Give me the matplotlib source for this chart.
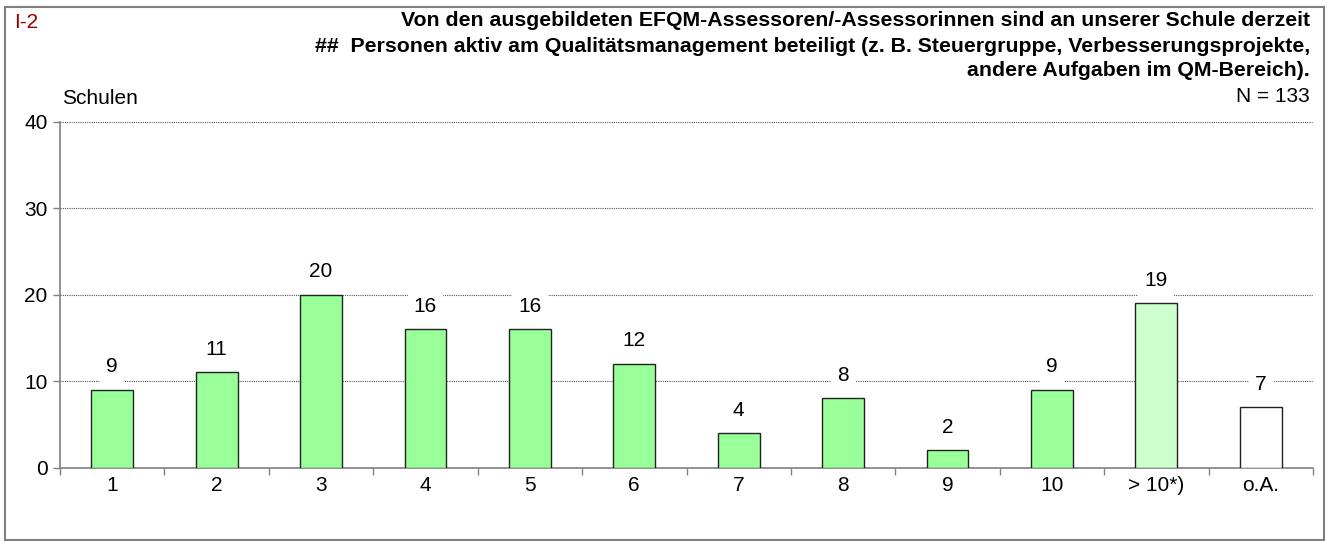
import numpy as np
import matplotlib
matplotlib.use('Agg')
import matplotlib.pyplot as plt
from matplotlib.patches import Rectangle

plt.rcParams['font.family'] = ['Liberation Sans', 'DejaVu Sans']

# Daten
categories = ['1', '2', '3', '4', '5', '6', '7', '8', '9', '10', '> 10*)', 'o.A.']
values = [9, 11, 20, 16, 16, 12, 4, 8, 2, 9, 19, 7]
bar_colors = ['#99ff99'] * 10 + ['#ccffcc', '#ffffff']

title_lines = [
    'Von den ausgebildeten EFQM-Assessoren/-Assessorinnen sind an unserer Schule derzeit',
    '##  Personen aktiv am Qualitätsmanagement beteiligt (z. B. Steuergruppe, Verbesserungsprojekte,',
    'andere Aufgaben im QM-Bereich).',
]

W, H = 1327, 541
fig = plt.figure(figsize=(W / 100, H / 100), dpi=100)

# Rahmen
fig.add_artist(Rectangle((5 / W, 1 - 540 / H), 1319 / W, 533 / H, transform=fig.transFigure,
                         fill=False, edgecolor='#808080', lw=1.5))

ax = fig.add_axes([60 / W, 73.3 / H, 1253 / W, 346.2 / H])

x = np.arange(len(categories))
ax.bar(x, values, width=0.4, color=bar_colors, edgecolor='#222222', linewidth=1, zorder=3)

for xi, v in zip(x, values):
    ax.annotate(str(v), (xi, v), xytext=(0, 16.5), textcoords='offset points',
                ha='center', va='center', fontsize=15, zorder=4,
                bbox=dict(boxstyle='square,pad=0.3', fc='white', ec='none'))

ax.set_xlim(-0.5, len(categories) - 0.5)
ax.set_ylim(0, 40)
ax.set_yticks([0, 10, 20, 30, 40])
ax.set_xticks(x)
ax.set_xticklabels(categories)
ax.set_xticks(np.arange(len(categories) + 1) - 0.5, minor=True)
ax.tick_params(axis='x', which='major', length=0, labelsize=15, pad=6)
ax.tick_params(axis='x', which='minor', length=5, color='#808080', width=1)
ax.tick_params(axis='y', length=5, color='#808080', width=1, labelsize=15, pad=4)

ax.yaxis.grid(True, linestyle=(0, (1, 1)), color='#555555', lw=0.8, zorder=0)
ax.set_axisbelow(True)

for s in ['top', 'right']:
    ax.spines[s].set_visible(False)
for s in ['left', 'bottom']:
    ax.spines[s].set_color('#808080')
    ax.spines[s].set_linewidth(1.2)

# Texte
fig.text(14 / W, 1 - 22 / H, 'I-2', color='#990000', fontsize=15, ha='left', va='center')
for i, line in enumerate(title_lines):
    fig.text(1310 / W, 1 - (21 + 25 * i) / H, line, fontsize=15.3, fontweight='bold',
             ha='right', va='center')
fig.text(1310 / W, 1 - 96 / H, 'N = 133', fontsize=15, ha='right', va='center')
fig.text(62 / W, 1 - 99 / H, 'Schulen', fontsize=15, ha='left', va='center')

plt.savefig('out.png', dpi=100)
plt.close()
